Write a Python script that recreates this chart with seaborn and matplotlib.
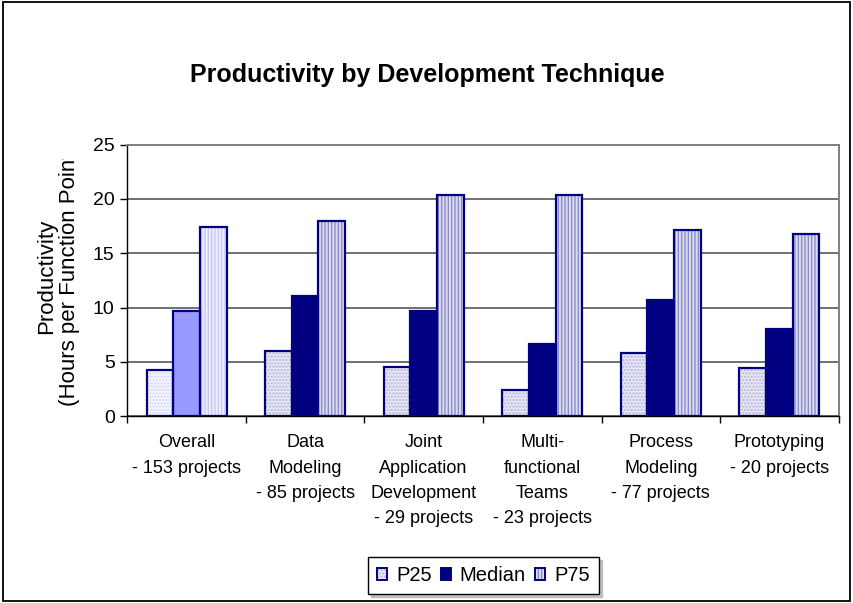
"""
Productivity by development technique - grouped bar chart (P25 / Median / P75).
"""
import numpy as np
import pandas as pd
import matplotlib
matplotlib.use('Agg')
import matplotlib.pyplot as plt
from matplotlib.patches import Patch, Rectangle
from matplotlib.legend_handler import HandlerTuple
from matplotlib.transforms import Bbox, TransformedBbox
import seaborn as sns

techniques = [
    "Overall\n- 153 projects",
    "Data\nModeling\n- 85 projects",
    "Joint\nApplication\nDevelopment\n- 29 projects",
    "Multi-\nfunctional\nTeams\n- 23 projects",
    "Process\nModeling\n- 77 projects",
    "Prototyping\n- 20 projects",
]
stats = ["P25", "Median", "P75"]
p25 = [4.2, 6.0, 4.5, 2.4, 5.8, 4.4]
median = [9.7, 11.1, 9.7, 6.6, 10.7, 8.0]
p75 = [17.4, 18.0, 20.4, 20.4, 17.1, 16.8]

NAVY = "#000080"
# (face, hatch colour, hatch) per series; first group is highlighted lighter
styles = {
    "P25": ("#E6E6F4", "#B4B4DA", "....."),
    "Median": (NAVY, NAVY, ""),
    "P75": ("#DCDCF0", "#8C8CCC", "|||||"),
}
overall_styles = {
    "P25": ("#F4F4FF", "#D4D4F4", "....."),
    "Median": ("#9999FF", "#9999FF", ""),
    "P75": ("#EEEEFF", "#C8C8F4", "|||||"),
}

df = pd.DataFrame({
    "technique": techniques * 3,
    "stat": np.repeat(stats, len(techniques)),
    "value": p25 + median + p75,
})

sns.set_style("white")
plt.rcParams['font.family'] = ['Liberation Sans', 'DejaVu Sans']
plt.rcParams.update({'text.color': 'black', 'axes.labelcolor': 'black',
                     'xtick.color': 'black', 'ytick.color': 'black',
                     'hatch.linewidth': 1.0})

fig = plt.figure(figsize=(8.54, 6.03), dpi=100)
ax = fig.add_axes([0.149, 0.310, 0.833, 0.450])

sns.barplot(data=df, x="technique", y="value", hue="stat", order=techniques,
            hue_order=stats, palette={s: styles[s][0] for s in stats},
            width=0.675, gap=0, errorbar=None, legend=False, ax=ax,
            linewidth=0, saturation=1)

# recolour bars: hatch colour comes from edgecolor, so outline them separately
for stat, cont in zip(stats, ax.containers):
    for i, bar in enumerate(cont):
        face, hcol, hatch = (overall_styles if i == 0 else styles)[stat]
        bar.set_facecolor(face)
        bar.set_edgecolor(hcol)
        bar.set_hatch(hatch)
        bar.set_linewidth(0)
        ax.add_patch(Rectangle(bar.get_xy(), bar.get_width(), bar.get_height(),
                               fill=False, edgecolor=NAVY, linewidth=1.6, zorder=3))

ax.set_ylim(0, 25)
ax.set_yticks(range(0, 26, 5))
ax.set_xlim(-0.5, len(techniques) - 0.5)
ax.yaxis.grid(True, color="#707070", linewidth=1.4)
ax.set_axisbelow(True)
for side in ["top", "right"]:
    ax.spines[side].set_color("#808080")
    ax.spines[side].set_linewidth(1.4)
for side in ["left", "bottom"]:
    ax.spines[side].set_color("black")
    ax.spines[side].set_linewidth(1.0)

ax.set_xlabel("")
ax.set_ylabel("")
ax.tick_params(axis="y", labelsize=14, length=5, width=1, color="black",
               direction="out", left=True, pad=4)
ax.tick_params(axis="x", which="major", labelsize=13, length=0, pad=13)
ax.set_xticks(np.arange(-0.5, len(techniques)), minor=True)
ax.tick_params(axis="x", which="minor", length=5, width=1, color="black",
               direction="out", bottom=True)
for lab in ax.get_xticklabels():
    lab.set_linespacing(1.65)

fig.text(0.5, 0.876, "Productivity by Development Technique",
         ha="center", va="center", fontsize=18, fontweight="bold")

# y label: two centred lines, the second cut off at the top as in the source
fig.text(52 / 854, 1 - 276.5 / 603, "Productivity", rotation=90,
         rotation_mode="anchor", ha="center", va="baseline", fontsize=16)
ylab2 = fig.text(75 / 854, 1 - 270 / 603, "(Hours per Function Points)",
                 rotation=90, rotation_mode="anchor", ha="center",
                 va="baseline", fontsize=16)
ylab2.set_clip_box(TransformedBbox(Bbox([[0, 0], [1, (603 - 159) / 603]]),
                                   fig.transFigure))
ylab2.set_clip_on(True)

handles = []
for s in stats:
    face, hcol, hatch = styles[s]
    handles.append((Patch(facecolor=face, edgecolor=hcol, hatch=hatch, linewidth=0),
                    Patch(facecolor="none", edgecolor=NAVY, linewidth=1.4)))
leg = fig.legend(handles, stats, loc="center", bbox_to_anchor=(0.566, 0.0455),
                 ncol=3, fontsize=14.5, frameon=True, fancybox=False,
                 edgecolor="black", framealpha=1, handlelength=0.5,
                 handleheight=0.5, handletextpad=0.45, columnspacing=0.45,
                 borderpad=0.45, shadow={"color": "#909090"},
                 handler_map={tuple: HandlerTuple(ndivide=1, pad=0)})
leg.get_frame().set_linewidth(1.0)

fig.patches.append(Rectangle((0.003, 0.003), 0.992, 0.993, transform=fig.transFigure,
                             fill=False, edgecolor="black", linewidth=1.3))

plt.savefig("out.png", dpi=100)
plt.close()
